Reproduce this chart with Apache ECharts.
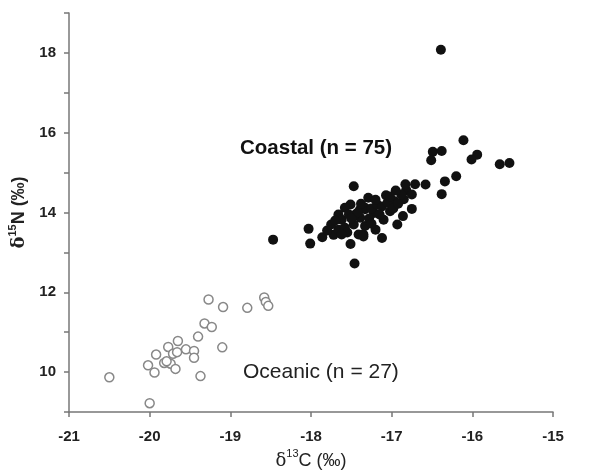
<!DOCTYPE html>
<html>
<head>
<meta charset="utf-8">
<script src="https://cdn.jsdelivr.net/npm/echarts@6/dist/echarts.min.js"></script>
<style>html,body{margin:0;padding:0;background:#fff}#c{width:600px;height:474px}</style>
</head>
<body>
<div id="c"></div>
<script>
var coastal = [
  [-18.47,13.32],[-18.03,13.59],[-18.01,13.22],[-17.86,13.38],[-17.72,13.44],
  [-17.66,13.57],[-17.51,13.21],[-17.46,12.72],[-17.47,14.66],[-17.41,13.45],
  [-17.35,13.45],[-17.33,13.66],[-17.39,13.87],[-17.51,14.20],[-17.58,14.12],
  [-17.66,13.95],[-17.62,13.82],[-17.53,13.95],[-17.29,14.37],[-17.39,14.08],
  [-17.47,13.70],[-17.33,14.08],[-17.07,14.43],[-16.96,14.28],[-16.85,14.33],
  [-16.82,14.56],[-16.83,14.71],[-16.71,14.71],[-16.58,14.70],[-16.75,14.45],
  [-16.75,14.09],[-16.86,13.91],[-16.93,13.70],[-17.20,13.57],[-17.12,13.36],
  [-17.35,13.40],[-17.10,13.82],[-17.22,13.99],[-17.33,14.12],[-17.02,14.03],
  [-16.34,14.78],[-16.20,14.91],[-16.38,14.46],[-16.49,15.52],[-16.38,15.54],
  [-16.51,15.31],[-16.11,15.81],[-15.94,15.45],[-16.01,15.33],[-15.66,15.21],
  [-15.54,15.24],[-16.39,18.08],[-17.75,13.70],[-17.70,13.80],[-17.58,13.62],
  [-17.55,13.50],[-17.45,13.95],[-17.42,14.00],[-17.25,14.10],[-17.18,14.20],
  [-17.12,14.15],[-17.05,14.25],[-16.98,14.10],[-16.92,14.22],[-16.88,14.45],
  [-17.15,13.95],[-17.28,13.85],[-17.62,13.45],[-17.50,13.85],[-17.38,14.22],
  [-17.20,14.32],[-16.95,14.55],[-17.80,13.55],[-17.25,13.72],[-17.02,14.40]
];
var oceanic = [
  [-20.50,9.87],[-20.00,9.22],[-20.02,10.17],[-19.94,9.99],[-19.92,10.44],
  [-19.82,10.23],[-19.77,10.63],[-19.74,10.21],[-19.71,10.46],[-19.68,10.08],
  [-19.66,10.50],[-19.65,10.78],[-19.55,10.57],[-19.45,10.53],[-19.45,10.36],
  [-19.40,10.89],[-19.37,9.90],[-19.32,11.22],[-19.23,11.13],[-19.27,11.82],
  [-19.10,10.62],[-19.09,11.63],[-18.79,11.61],[-18.58,11.87],[-18.56,11.76],
  [-18.53,11.66],[-19.79,10.27]
];
var xTicks = [-21,-20,-19,-18,-17,-16,-15];
var yTickLabels = [10,12,14,16,18];

var chart = echarts.init(document.getElementById('c'), null, {renderer:'canvas'});
var axisLine = {show:true, lineStyle:{color:'#777', width:1.5}};
var axisTick = {show:true, inside:false, length:5, lineStyle:{color:'#777', width:1.5}};
var labelStyle = {color:'#222', fontSize:15, fontWeight:'bold', fontFamily:'Liberation Sans, Arial, sans-serif'};
var sans = 'Liberation Sans, Arial, sans-serif';
chart.setOption({
  animation:false,
  grid:{left:69, right:47, top:13, bottom:62, containLabel:false, outerBoundsMode:'none'},
  xAxis:{
    type:'value', min:xTicks[0], max:xTicks[xTicks.length-1], interval:1,
    splitLine:{show:false}, axisLine:axisLine, axisTick:axisTick,
    axisLabel:Object.assign({margin:17, formatter:function(v){return String(v);}}, labelStyle),
    name:'{d|δ}{s|13}{n|C (‰)}', nameLocation:'middle', nameGap:35,
    nameTextStyle:{rich:{
      d:{fontSize:18, color:'#222', fontFamily:'DejaVu Serif, serif', lineHeight:24},
      s:{fontSize:11, color:'#222', verticalAlign:'top', fontFamily:sans},
      n:{fontSize:18, color:'#222', fontFamily:sans, lineHeight:24}
    }}
  },
  yAxis:{
    type:'value', min:9, max:19, interval:1,
    splitLine:{show:false}, axisLine:axisLine, axisTick:axisTick,
    axisLabel:Object.assign({margin:13, formatter:function(v){return yTickLabels.indexOf(v)>=0?String(v):'';}}, labelStyle),
    name:'{d|δ}{s|15}{n|N (‰)}', nameLocation:'middle', nameGap:36, nameRotate:90,
    nameTextStyle:{rich:{
      d:{fontSize:18, color:'#222', fontWeight:'bold', fontFamily:'DejaVu Serif, serif', lineHeight:24},
      s:{fontSize:11, color:'#222', fontWeight:'bold', verticalAlign:'top', fontFamily:sans},
      n:{fontSize:18, color:'#222', fontWeight:'bold', fontFamily:sans, lineHeight:24}
    }}
  },
  series:[
    {type:'scatter', name:'Coastal', data:coastal, symbolSize:10,
     itemStyle:{color:'#111', opacity:1}},
    {type:'scatter', name:'Oceanic', data:oceanic, symbolSize:9,
     itemStyle:{color:'#fff', borderColor:'#888', borderWidth:1.5, opacity:1}}
  ],
  graphic:[
    {type:'text', left:240, top:138, style:{text:'Coastal (n = 75)', fontSize:20.5, fontWeight:'bold', fill:'#111', fontFamily:sans}},
    {type:'text', left:243, top:362, style:{text:'Oceanic (n = 27)', fontSize:21, fill:'#222', fontFamily:sans}}
  ]
});
</script>
</body>
</html>
